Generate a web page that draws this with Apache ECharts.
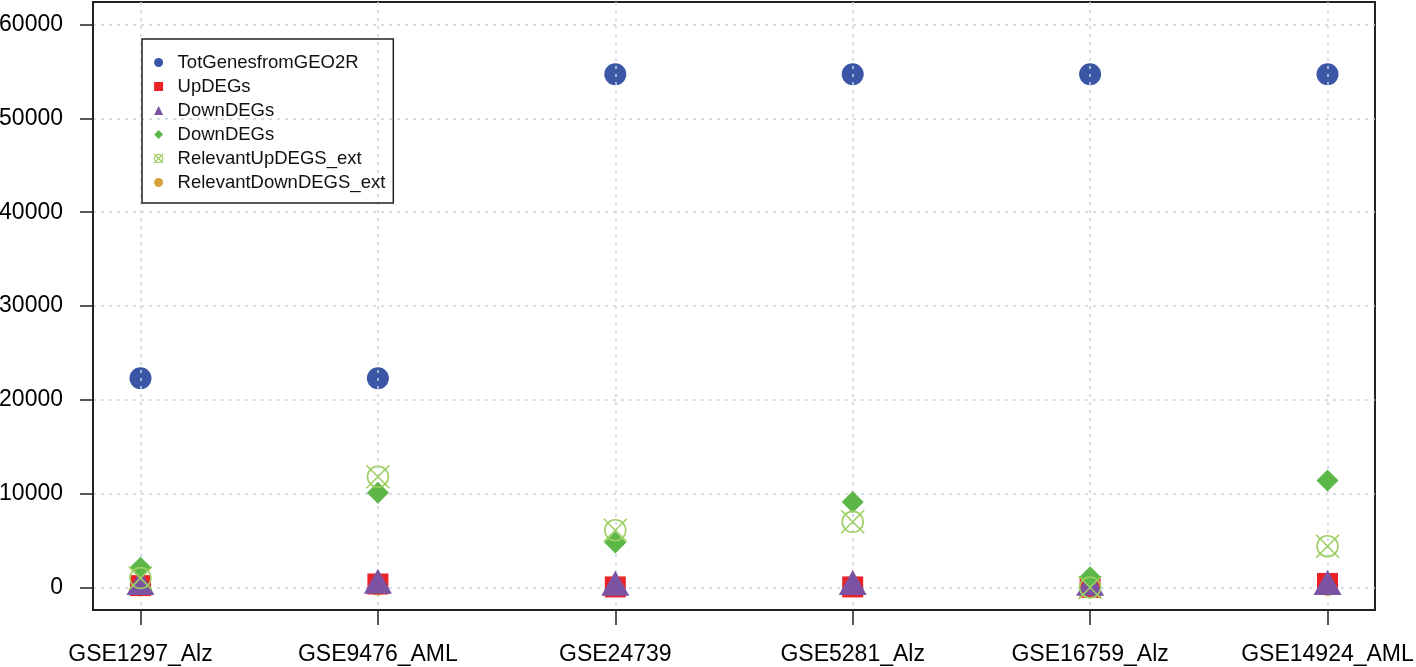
<!DOCTYPE html>
<html>
<head>
<meta charset="utf-8">
<script src="https://cdn.jsdelivr.net/npm/echarts@6/dist/echarts.min.js"></script>
<style>
html,body{margin:0;padding:0;background:#fff;}
#chart{width:1416px;height:667px;}
</style>
</head>
<body>
<div id="chart"></div>
<script>
var categories = ['GSE1297_Alz', 'GSE9476_AML', 'GSE24739', 'GSE5281_Alz', 'GSE16759_Alz', 'GSE14924_AML'];
var totGenes = [22300, 22300, 54700, 54700, 54700, 54700];
var upDEGs = [200, 370, 60, 60, 20, 430];
var downDEGs = [100, 250, 30, 100, 30, 100];
var downDEGs2 = [2100, 10100, 4800, 9100, 1100, 11400];
var relevantUp = [1000, 11800, 6100, 7000, 0, 4400];
var relevantDown = [150, 200, 50, 50, 10, 150];
var yTicks = [0, 10000, 20000, 30000, 40000, 50000, 60000];
var xTicks = [0, 1, 2, 3, 4, 5];

function pts(arr) { return arr.map(function (v, i) { return [i, v]; }); }

var crossCircle = 'path://M21,11A10,10,0,1,1,1,11A10,10,0,1,1,21,11ZM0,0L22,22M22,0L0,22';
var gridLine = { show: true, lineStyle: { color: '#c6d4de', width: 1.5, type: [3, 5] } };
var FONT = '"Liberation Sans", Arial, sans-serif';
var axisLineStyle = { show: true, onZero: false, lineStyle: { color: '#222', width: 2 } };

var chart = echarts.init(document.getElementById('chart'));
chart.setOption({
  backgroundColor: '#ffffff',
  animation: false,
  grid: { left: 93, right: 41, top: 2, bottom: 57, show: true, borderColor: '#222', borderWidth: 2,
    containLabel: false, outerBoundsMode: 'none' },
  xAxis: {
    type: 'value', min: -0.2, max: 5.2, z: 2,
    axisLine: axisLineStyle,
    axisTick: { show: true, inside: false, length: 15, lineStyle: { color: '#222', width: 1.5 }, customValues: xTicks },
    axisLabel: { customValues: xTicks, margin: 33, fontSize: 23, fontFamily: FONT, color: '#000',
      formatter: function (v) { return categories[Math.round(v)] || ''; } },
    splitLine: gridLine
  },
  yAxis: {
    type: 'value', min: -2400, max: 62400, z: 2,
    axisLine: axisLineStyle,
    axisTick: { show: true, inside: false, length: 13, lineStyle: { color: '#222', width: 1.5 }, customValues: yTicks },
    axisLabel: { customValues: yTicks, margin: 30, fontSize: 23, fontFamily: FONT, color: '#000',
      formatter: function (v) { return String(v); } },
    splitLine: gridLine
  },
  legend: {
    orient: 'vertical', left: 142, top: 39,
    padding: [14, 8, 11, 11.5],
    borderColor: '#222', borderWidth: 1.5,
    itemWidth: 9, itemHeight: 9, itemGap: 5,
    textStyle: { fontSize: 18.5, lineHeight: 18, fontFamily: FONT, color: '#111', padding: [0, 0, 0, 9.5] },
    formatter: function (n) { return n.trim(); },
    data: [
      { name: 'TotGenesfromGEO2R', icon: 'circle' },
      { name: 'UpDEGs', icon: 'rect' },
      { name: 'DownDEGs', icon: 'triangle' },
      { name: 'DownDEGs ', icon: 'diamond' },
      { name: 'RelevantUpDEGS_ext', icon: crossCircle, itemStyle: { color: 'rgba(0,0,0,0)', borderColor: '#9dcf62', borderWidth: 1.2 } },
      { name: 'RelevantDownDEGS_ext', icon: 'circle' }
    ]
  },
  series: [
    { name: 'TotGenesfromGEO2R', type: 'scatter', z: 1, data: pts(totGenes), symbol: 'circle', symbolSize: 22,
      itemStyle: { color: '#3a56a5', opacity: 1 } },
    { name: 'RelevantDownDEGS_ext', type: 'scatter', z: 3, data: pts(relevantDown), symbol: 'circle', symbolSize: 20,
      itemStyle: { color: '#d6a33a', opacity: 1 } },
    { name: 'UpDEGs', type: 'scatter', z: 3, data: pts(upDEGs), symbol: 'rect', symbolSize: 21,
      itemStyle: { color: '#ea2329', opacity: 1 } },
    { name: 'DownDEGs', type: 'scatter', z: 3, data: pts(downDEGs), symbol: 'triangle', symbolSize: [28, 25], symbolOffset: [0, -4],
      itemStyle: { color: '#7b53a2', opacity: 1 } },
    { name: 'DownDEGs ', type: 'scatter', z: 3, data: pts(downDEGs2), symbol: 'diamond', symbolSize: 22,
      itemStyle: { color: '#5db748', opacity: 1 } },
    { name: 'RelevantUpDEGS_ext', type: 'scatter', z: 3, data: pts(relevantUp), symbol: crossCircle, symbolSize: 23,
      itemStyle: { color: 'rgba(0,0,0,0)', borderColor: '#9dcf62', borderWidth: 1.6, opacity: 1 } }
  ]
});
</script>
</body>
</html>
